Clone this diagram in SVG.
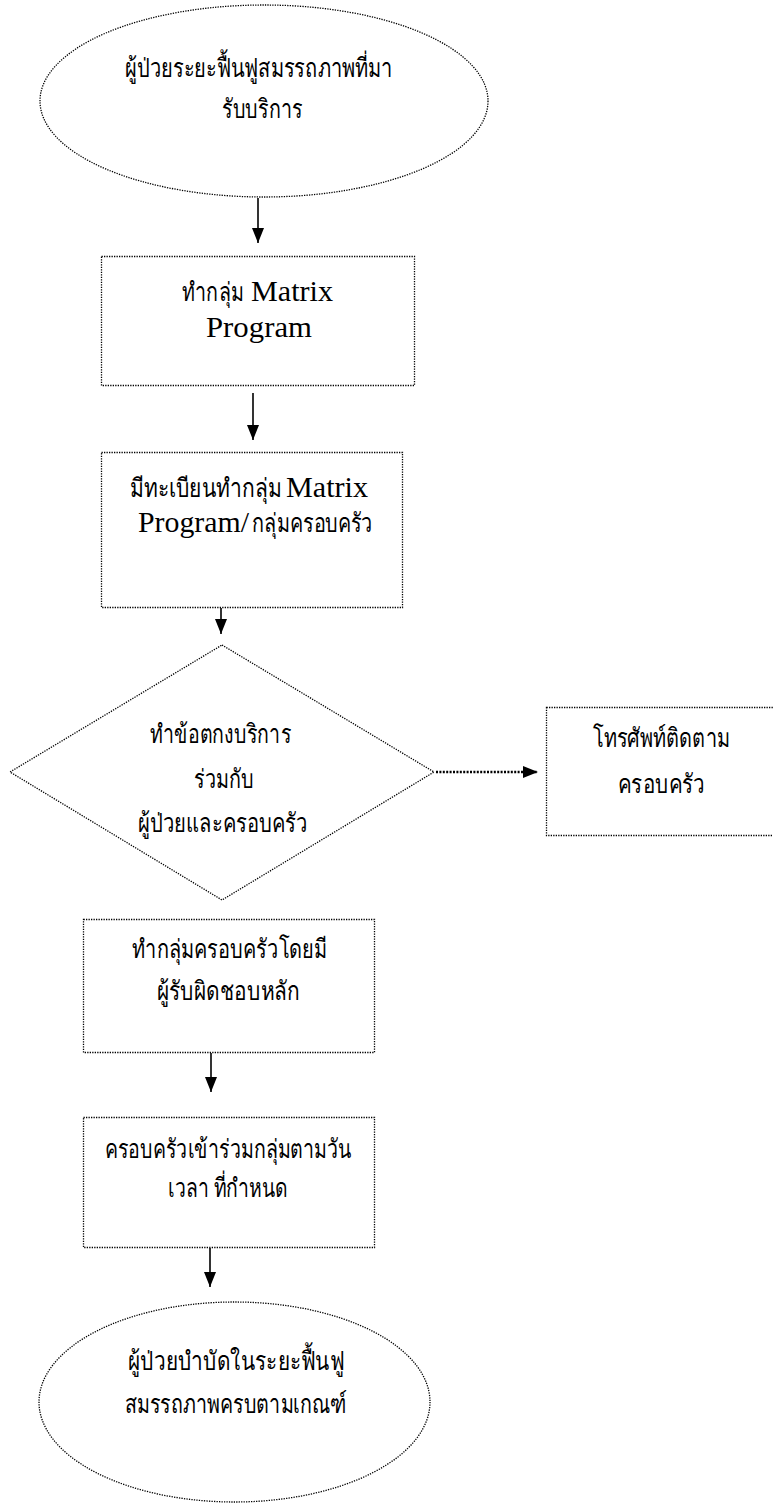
<svg xmlns="http://www.w3.org/2000/svg" width="773" height="1505" viewBox="0 0 773 1505">
<style>
.shape{fill:#fff;stroke:#000;stroke-width:1.3;stroke-dasharray:1.3 1.2;}
.th{font-family:"Liberation Serif","Noto Sans CJK SC",serif;font-size:26px;fill:#000;}
.ths{font-family:"Liberation Serif","Noto Sans CJK SC",serif;font-size:22px;fill:#000;}
.en{font-family:"Liberation Serif",serif;font-size:30px;fill:#000;}
.arr{stroke:#000;stroke-width:1.6;fill:none;marker-end:url(#ah);}
.dotarr{stroke:#000;stroke-width:2.5;stroke-dasharray:2 1.4;fill:none;marker-end:url(#ah);}
</style>
<defs>
<marker id="ah" viewBox="0 0 10 10" refX="10" refY="5" markerWidth="15" markerHeight="12" markerUnits="userSpaceOnUse" orient="auto" preserveAspectRatio="none">
<path d="M0,0 L10,5 L0,10 z" fill="#000"/>
</marker>
</defs>
<rect width="773" height="1505" fill="#fff"/>

<g id="connectors">
<line class="arr" x1="258" y1="198" x2="258" y2="243"/>
<line class="arr" x1="253" y1="393" x2="253" y2="440"/>
<line class="arr" x1="221" y1="608" x2="221" y2="634"/>
<line class="dotarr" x1="436" y1="772" x2="538" y2="772"/>
<line class="arr" x1="211" y1="1053" x2="211" y2="1092"/>
<line class="arr" x1="210" y1="1248" x2="210" y2="1287"/>
</g>

<g id="start">
<ellipse class="shape" cx="264" cy="101" rx="224" ry="96"/>
<text class="th" x="125" y="77" textLength="268" lengthAdjust="spacingAndGlyphs">ผู้ป่วยระยะฟื้นฟูสมรรถภาพที่มา</text>
<text class="th" x="222" y="118" textLength="81" lengthAdjust="spacingAndGlyphs">รับบริการ</text>
</g>

<g id="matrix">
<rect class="shape" x="101.5" y="256.5" width="313" height="129"/>
<text class="ths" transform="translate(182 301) scale(1 1.18)" textLength="62" lengthAdjust="spacingAndGlyphs">ทำกลุ่ม</text>
<text class="en" x="251" y="301" textLength="82" lengthAdjust="spacingAndGlyphs">Matrix</text>
<text class="en" x="206" y="337" textLength="106" lengthAdjust="spacingAndGlyphs">Program</text>
</g>

<g id="register">
<rect class="shape" x="101.5" y="452.5" width="301" height="155"/>
<text class="ths" transform="translate(130 497) scale(1 1.18)" textLength="152" lengthAdjust="spacingAndGlyphs">มีทะเบียนทำกลุ่ม</text>
<text class="en" x="286" y="497" textLength="82" lengthAdjust="spacingAndGlyphs">Matrix</text>
<text class="en" x="138" y="532" textLength="111" lengthAdjust="spacingAndGlyphs">Program/</text>
<text class="ths" transform="translate(252 532) scale(1 1.18)" textLength="121" lengthAdjust="spacingAndGlyphs">กลุ่มครอบครัว</text>
</g>

<g id="agreement">
<polygon class="shape" points="222,645 434,772 222,900 10,772"/>
<text class="th" x="150" y="743" textLength="141" lengthAdjust="spacingAndGlyphs">ทำข้อตกงบริการ</text>
<text class="th" x="194" y="788" textLength="60" lengthAdjust="spacingAndGlyphs">ร่วมกับ</text>
<text class="th" x="138" y="832" textLength="170" lengthAdjust="spacingAndGlyphs">ผู้ป่วยและครอบครัว</text>
</g>

<g id="phone">
<rect class="shape" x="546.5" y="707.5" width="240" height="128"/>
<text class="th" x="593" y="747" textLength="137" lengthAdjust="spacingAndGlyphs">โทรศัพท์ติดตาม</text>
<text class="th" x="618" y="793" textLength="87" lengthAdjust="spacingAndGlyphs">ครอบครัว</text>
</g>

<g id="family-group">
<rect class="shape" x="83.5" y="919.5" width="291" height="133"/>
<text class="th" x="132" y="958" textLength="195" lengthAdjust="spacingAndGlyphs">ทำกลุ่มครอบครัวโดยมี</text>
<text class="th" x="157" y="1000" textLength="143" lengthAdjust="spacingAndGlyphs">ผู้รับผิดชอบหลัก</text>
</g>

<g id="attend">
<rect class="shape" x="83.5" y="1117.5" width="291" height="130"/>
<text class="th" x="105" y="1158" textLength="247" lengthAdjust="spacingAndGlyphs">ครอบครัวเข้าร่วมกลุ่มตามวัน</text>
<text class="th" x="168" y="1197" textLength="120" lengthAdjust="spacingAndGlyphs">เวลา ที่กำหนด</text>
</g>

<g id="end">
<ellipse class="shape" cx="234.5" cy="1402" rx="195.5" ry="100"/>
<text class="th" x="128" y="1370" textLength="216" lengthAdjust="spacingAndGlyphs">ผู้ป่วยบำบัดในระยะฟื้นฟู</text>
<text class="th" x="125" y="1413" textLength="222" lengthAdjust="spacingAndGlyphs">สมรรถภาพครบตามเกณฑ์</text>
</g>
</svg>
